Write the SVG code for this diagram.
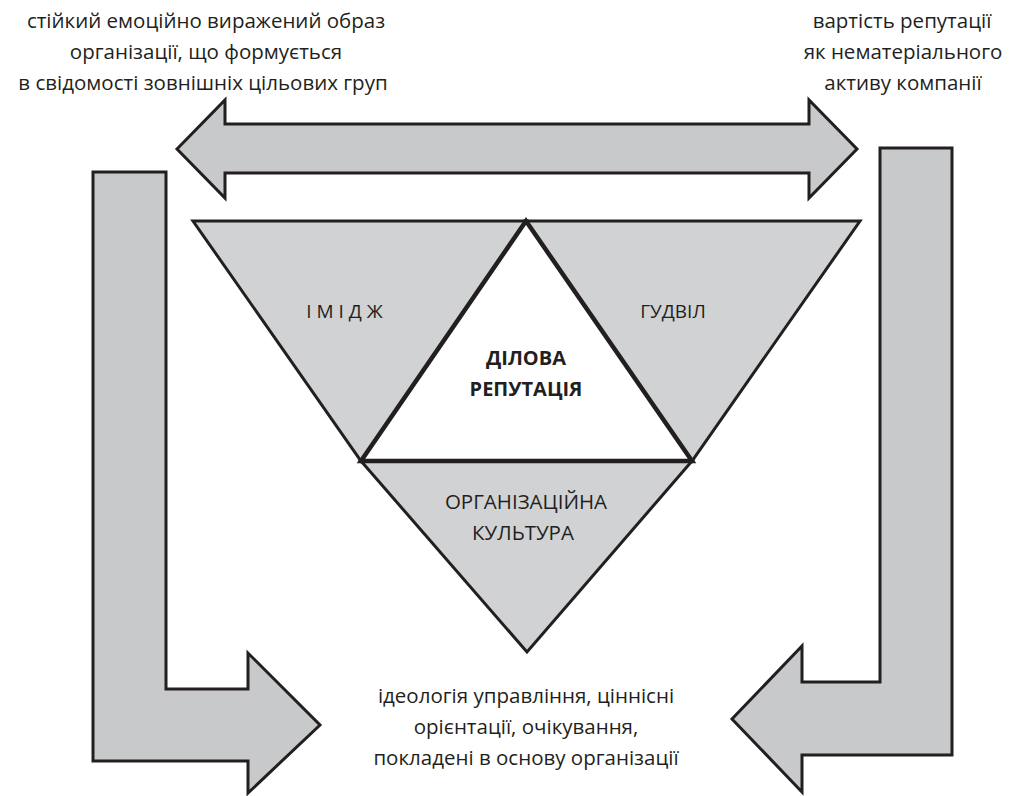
<svg xmlns="http://www.w3.org/2000/svg" width="1019" height="796" viewBox="0 0 1019 796">
<style>
.arrow{fill:#c8c9cb;stroke:#231f20;stroke-width:3;stroke-linejoin:miter}
.tri{fill:#d1d2d4;stroke:#231f20;stroke-width:3;stroke-linejoin:miter}
.core{fill:#ffffff;stroke:#231f20;stroke-width:4.5;stroke-linejoin:miter}
text{font-family:"Open Sans","Liberation Sans",sans-serif;font-size:20.5px;fill:#231f20;text-anchor:middle}
.lbl{font-size:19px}
.b{font-weight:bold;font-size:20px}
</style>
<rect width="1019" height="796" fill="#ffffff"/>
<g id="connectors">
<path class="arrow" d="M177,149 L225,100 L225,124 L809,124 L809,100 L857,149 L809,198 L809,173 L225,173 L225,198 Z"/>
<path class="arrow" d="M93,172 L166,172 L166,689 L248,689 L248,653 L320,725 L248,793 L248,761 L93,761 Z"/>
<path class="arrow" d="M952,148 L880,148 L880,682 L802,682 L802,646 L732,719 L802,792 L802,755 L952,755 Z"/>
</g>
<g id="text-image-def">
<text x="206" y="28">стійкий емоційно виражений образ</text>
<text x="206" y="59">організації, що формується</text>
<text x="203" y="90">в свідомості зовнішніх цільових груп</text>
</g>
<g id="text-goodwill-def">
<text x="902" y="28">вартість репутації</text>
<text x="903" y="59">як нематеріального</text>
<text x="903" y="90">активу компанії</text>
</g>
<g id="node-image">
<path class="tri" d="M193,221 L526,221 L361,461 Z"/>
<text class="lbl" x="347" y="318" letter-spacing="5">ІМІДЖ</text>
</g>
<g id="node-goodwill">
<path class="tri" d="M526,221 L860,221 L692,461 Z"/>
<text class="lbl" x="673" y="318">ГУДВІЛ</text>
</g>
<g id="node-culture">
<path class="tri" d="M361,461 L692,461 L527,652 Z"/>
<text x="526" y="509">ОРГАНІЗАЦІЙНА</text>
<text x="523" y="540">КУЛЬТУРА</text>
</g>
<g id="node-reputation">
<path class="core" d="M526,221 L692,461 L361,461 Z"/>
<text class="b" x="526" y="365">ДІЛОВА</text>
<text class="b" x="526" y="396">РЕПУТАЦІЯ</text>
</g>
<g id="text-culture-def">
<text x="526" y="703">ідеологія управління, ціннісні</text>
<text x="526" y="734">орієнтації, очікування,</text>
<text x="526" y="765">покладені в основу організації</text>
</g>
</svg>
